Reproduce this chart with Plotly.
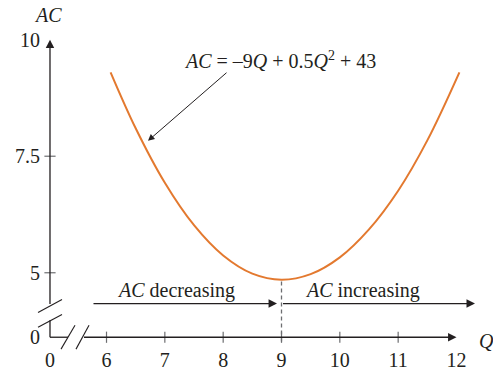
import plotly.graph_objects as go

# Average cost curve, read at selected output levels
q_values = [6.07, 6.5, 7.0, 7.5, 8.0, 8.5, 9.0, 9.5, 10.0, 10.5, 11.0, 11.5, 12.05]
ac_values = [9.30, 8.10, 6.93, 6.02, 5.37, 4.98, 4.85, 4.97, 5.33, 5.93, 6.76, 7.84, 9.30]

# Axis tick labels (both axes are broken, so "0" sits at the drawn origin)
q_ticks = [6, 7, 8, 9, 10, 11, 12]
ac_ticks = [5, 7.5, 10]
q_min_index = 6  # Q = 9, where AC bottoms out

# Layout constants (data units)
X_RANGE = [4.174, 12.626]
Y_RANGE = [2.957, 10.851]
ORIGIN_Q = 5.031
ORIGIN_AC = 3.617

INK = "#231f20"
ORANGE = "#E3792F"
GREY = "#6d6e71"
FONT = "Liberation Serif, DejaVu Serif, serif"

fig = go.Figure()

# AC curve
fig.add_trace(go.Scatter(
    x=q_values, y=ac_values, mode="lines",
    line=dict(color=ORANGE, width=2, shape="spline", smoothing=1.0),
    hoverinfo="skip", showlegend=False,
))

# Dashed drop line from the minimum of AC to below the Q axis
fig.add_trace(go.Scatter(
    x=[q_values[q_min_index], q_values[q_min_index]],
    y=[ac_values[q_min_index] - 0.04, ORIGIN_AC - 0.15],
    mode="lines", line=dict(color=GREY, width=1.3, dash="4px,3px"),
    hoverinfo="skip", showlegend=False,
))

# Tick marks crossing the axis lines
fig.add_trace(go.Scatter(
    x=q_ticks[:-1], y=[ORIGIN_AC] * (len(q_ticks) - 1), mode="markers",
    marker=dict(symbol="line-ns", size=8, line=dict(color=GREY, width=1.2)),
    hoverinfo="skip", showlegend=False,
))
fig.add_trace(go.Scatter(
    x=[ORIGIN_Q] * (len(ac_ticks) - 1), y=ac_ticks[:-1], mode="markers",
    marker=dict(symbol="line-ew", size=8, line=dict(color=GREY, width=1.2)),
    hoverinfo="skip", showlegend=False,
))

line_style = dict(color=INK, width=1.3)
# Lower stub of the AC axis and the short stub of the Q axis near the origin
fig.add_shape(type="line", x0=ORIGIN_Q, x1=ORIGIN_Q, y0=ORIGIN_AC, y1=3.98, line=line_style)
fig.add_shape(type="line", x0=ORIGIN_Q, x1=5.340, y0=ORIGIN_AC, y1=ORIGIN_AC, line=line_style)
# Axis break marks
for (x0, y0, x1, y1) in [
    (4.826, 4.149, 5.237, 4.426),
    (4.826, 3.830, 5.237, 4.106),
    (5.220, 3.362, 5.460, 3.872),
    (5.477, 3.362, 5.700, 3.872),
]:
    fig.add_shape(type="line", x0=x0, y0=y0, x1=x1, y1=y1, line=dict(color=INK, width=1.1))


def arrow(x_from, y_from, x_to, y_to, width=1.3):
    fig.add_annotation(
        x=x_to, y=y_to, ax=x_from, ay=y_from, xref="x", yref="y", axref="x", ayref="y",
        text="", showarrow=True, arrowhead=2, arrowsize=1.3, arrowwidth=width,
        arrowcolor=INK, standoff=0, startstandoff=0,
    )


# Axis arrows
arrow(ORIGIN_Q, 4.30, ORIGIN_Q, ac_ticks[-1])
arrow(5.588, ORIGIN_AC, q_ticks[-1], ORIGIN_AC)

# Decreasing / increasing ranges
arrow(5.751, 4.340, 8.923, 4.340)
arrow(q_values[q_min_index], 4.340, 12.317, 4.340)

text_font = dict(family=FONT, size=20, color=INK)
fig.add_annotation(x=7.19, y=4.617, text="<i>AC</i> decreasing", showarrow=False, font=text_font)
fig.add_annotation(x=10.389, y=4.617, text="<i>AC</i> increasing", showarrow=False, font=text_font)

# Equation label with pointer to the curve
fig.add_annotation(
    x=8.966, y=9.574, showarrow=False, font=text_font,
    text="<i>AC</i> = –9<i>Q</i> + 0.5<i>Q</i><sup>2</sup> + 43",
)
arrow(8.083, 9.319, 6.711, 7.830, width=1.0)

# Axis titles
fig.add_annotation(x=5.005, y=10.532, text="<i>AC</i>", showarrow=False, font=text_font)
fig.add_annotation(x=12.52, y=3.54, text="<i>Q</i>", showarrow=False, font=text_font)

tick_font = dict(family=FONT, size=20, color=INK)
fig.update_layout(
    width=493, height=371,
    margin=dict(l=0, r=0, t=0, b=0),
    paper_bgcolor="white", plot_bgcolor="white",
    xaxis=dict(
        range=X_RANGE, anchor="free",
        position=(ORIGIN_AC - Y_RANGE[0]) / (Y_RANGE[1] - Y_RANGE[0]),
        tickvals=[ORIGIN_Q] + q_ticks, ticktext=["0"] + [str(v) for v in q_ticks],
        showgrid=False, zeroline=False, showline=False, ticks="",
        tickfont=tick_font, ticklabelstandoff=9,
    ),
    yaxis=dict(
        range=Y_RANGE, anchor="free",
        position=(ORIGIN_Q - X_RANGE[0]) / (X_RANGE[1] - X_RANGE[0]),
        tickvals=[ORIGIN_AC] + ac_ticks, ticktext=["0", "5", "7.5", "10"],
        showgrid=False, zeroline=False, showline=False, ticks="",
        tickfont=tick_font, ticklabelstandoff=10,
    ),
)

fig.write_html("out.html")
